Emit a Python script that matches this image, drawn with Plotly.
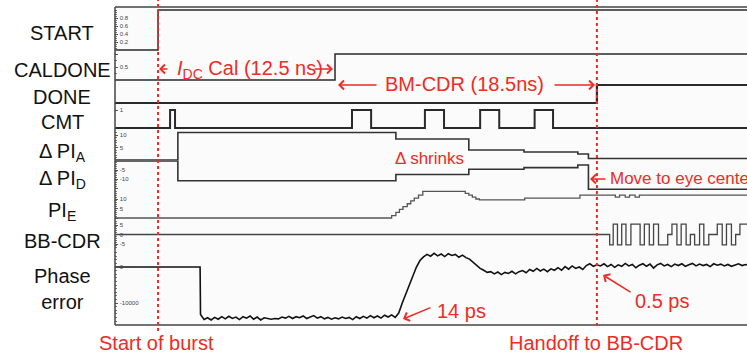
import plotly.graph_objects as go

# ---------------------------------------------------------------------------
# Data (time in ns, 0 = start of burst)
# ---------------------------------------------------------------------------
t_left, t_right = -3.04, 41.6
burst_start = 0.0
idc_cal_ns = 12.5
bm_cdr_ns = 18.5
caldone_at = burst_start + idc_cal_ns
handoff_at = caldone_at + bm_cdr_ns

start_t = [t_left, burst_start, t_right]
start_v = [0, 1, 1]

caldone_t = [t_left, caldone_at, t_right]
caldone_v = [0, 1, 1]

done_t = [t_left, handoff_at, t_right]
done_v = [0, 1, 1]

cmt_t = [t_left, 0.85, 1.2, 13.7, 15.05, 18.85, 20.2, 22.75, 24.1, 26.6, 27.9, t_right]
cmt_v = [0, 1, 0, 1, 0, 1, 0, 1, 0, 1, 0, 0]

dpia_t = [t_left, 1.4, 16.8, 21.95, 25.85, 29.65, 30.4, t_right]
dpia_v = [0, 11, 8.4, 4.0, 3.2, 2.4, 0.6, 0.6]

dpid_t = [t_left, 1.4, 16.8, 21.95, 25.85, 29.65, 30.4, t_right]
dpid_v = [0, -11, -7.5, -4.6, -3.7, -2.2, -15.7, -15.7]

pie_t = [t_left, 16.5, 16.8, 17.05, 17.3, 17.6, 17.85, 18.1, 18.4, 18.7,
         21.7, 21.95, 22.2, 22.45, 22.7, 25.9, 29.8,
         32.3, 32.6, 33.0, 33.3, 33.7, 34.0, t_right]
pie_v = [0, 1.2, 3, 4.5, 6, 7.5, 9, 10.5, 12, 14,
         13, 12, 11, 10, 9.5, 10.5, 12,
         11, 12, 11, 12, 11, 12, 12]

bb_t = [t_left, 31.9, 32.15, 32.45, 32.75, 33.05, 33.4, 33.7, 34.05, 34.35,
        34.7, 35.0, 35.35, 35.65, 36.0, 36.3, 36.65, 36.95, 37.3, 37.6,
        37.9, 38.25, 38.55, 38.9, 39.2, 39.5, 39.85, 40.15, 40.5, 40.8, 41.1, t_right]
bb_v = [0, -5.5, 5.5, -5.5, 5.5, -5.5, 5.5, 5.5, -5.5, 5.5,
        -5.5, 5.5, -5.5, -5.5, 0, 5.5, -5.5, 5.5, -5.5, 0,
        -5.5, 5.5, -5.5, 0, 0, 5.5, -5.5, 5.5, -5.5, 0, 5.5, 5.5]

# phase error in fs
phase_flat_t = [t_left, 2.97]
phase_flat_v = [0, 0]
phase_t0, phase_dt = 3.0, 0.25
phase_err = [
    -13200, -14600, -14100, -14700, -14000, -14500, -13800, -14400, -13700, -14300,
    -13900, -14600, -13800, -14200, -13600, -14500, -13900, -14700, -14100, -14400,
    -14500, -14300, -14400, -13900, -14200, -13700, -14300, -13800, -14100, -13600,
    -14300, -13900, -13500, -14200, -13800, -14400, -14000, -14500, -14100, -14400,
    -13900, -14300, -14000, -14600, -13800, -14300, -13700, -14200, -13500, -14100,
    -13600, -14200, -13400, -13900, -13300, -14000, -12800, -10000, -7500, -5000,
    -2500, 0, 1800, 2800, 3500, 3000, 3800, 3100, 3600, 2900,
    3700, 3200, 3500, 2700, 3300, 2600, 2200, 1300, 500, -400,
    -900, -1500, -1300, -1900, -1400, -2100, -1500, -1800, -1200, -1900,
    -1300, -1000, -1600, -700, -1200, -400, -1100, -600, -1300, -500,
    -900, -200, -900, 100, -600, 300, -400, 0, -700, 400,
    900, 200, 600, 300, 900, 100, 700, -100, 600, 200,
    1000, 300, 700, -200, 500, 900, 200, 800, -300, 600,
    1000, 300, 700, 100, 800, 400, 900, 200, 600, 1000,
    300, 800, 400, 700, 100, 900, 500, 800, 300, 700,
    200, 600, 900, 400, 700, 500,
]
phase_t = [phase_t0 + i * phase_dt for i in range(len(phase_err))]

# ---------------------------------------------------------------------------
# Layout geometry
# ---------------------------------------------------------------------------
W, H = 747, 358
left_px, right_px = 115, 747
top_px, bot_px = 7, 325
plot_h = bot_px - top_px
plot_w = right_px - left_px


def px_x(px):
    return (px - left_px) / plot_w


def px_y(py):
    return (bot_px - py) / plot_h


def px_t(px):
    return t_left + (px - left_px) / plot_w * (t_right - t_left)


# key, top px, bottom px, reference value, its px, px per unit, ticks, minor step
panels = [
    ("start", 7, 52, 0, 50, 40, [0.2, 0.4, 0.6, 0.8], 0.05),
    ("caldone", 52, 81, 0, 80, 26, [0, 0.5, 1], 0.25),
    ("done", 81, 104, 0, 103, 18, [], None),
    ("cmt", 104, 130, 0, 128, 18, [1], None),
    ("pia", 130, 161, 0, 160, 2.5, [0, 5, 10], 1),
    ("pid", 161, 190, 0, 161, 1.8, [-15, -10, -5], 1),
    ("pie", 190, 220, 0, 218, 1.9, [0, 5, 10], 1),
    ("bb", 220, 250, 0, 234.5, 1.9, [-5, 0, 5], 1),
    ("ph", 250, 325, 0, 267, 0.0036, [-10000, 0], 1000),
]

fig = go.Figure()
axis_of = {}
layout_axes = {}
for i, (key, a, b, v0, p0, ppu, ticks, minor) in enumerate(panels, start=1):
    name = "yaxis" if i == 1 else f"yaxis{i}"
    axis_of[key] = "y" if i == 1 else f"y{i}"
    ax = dict(
        domain=[px_y(b), px_y(a)],
        range=[v0 - (b - p0) / ppu, v0 + (p0 - a) / ppu],
        anchor="x",
        showgrid=False,
        zeroline=False,
        showline=False,
        fixedrange=True,
        tickmode="array",
        tickvals=ticks,
        ticktext=[f"{t:g}" for t in ticks],
        ticks="inside" if ticks else "",
        ticklen=3,
        tickwidth=1,
        tickcolor="#555",
        ticklabelposition="inside",
        tickfont=dict(size=6, color="#444", family="Liberation Sans, Arial, sans-serif"),
    )
    if minor:
        ax["minor"] = dict(ticks="inside", ticklen=2, dtick=minor, tickcolor="#777", tickwidth=1)
    layout_axes[name] = ax

sig_color = "#2a2a2a"


def step_trace(t, v, key, width=1.5, color=sig_color):
    fig.add_trace(go.Scatter(
        x=t, y=v, mode="lines", line=dict(shape="hv", width=width, color=color),
        xaxis="x", yaxis=axis_of[key], hoverinfo="skip", showlegend=False,
    ))


step_trace(start_t, start_v, "start", 1.5)
step_trace(caldone_t, caldone_v, "caldone", 1.5)
step_trace(done_t, done_v, "done", 2.2)
step_trace(cmt_t, cmt_v, "cmt", 2.0)
step_trace(dpia_t, dpia_v, "pia", 1.6, "#333")
step_trace(dpid_t, dpid_v, "pid", 1.6, "#333")
step_trace(pie_t, pie_v, "pie", 1.3, "#555")
step_trace(bb_t, bb_v, "bb", 1.3, "#444")

fig.add_trace(go.Scatter(
    x=phase_flat_t + phase_t, y=phase_flat_v + phase_err, mode="lines",
    line=dict(width=1.6, color="#111"), xaxis="x", yaxis=axis_of["ph"],
    hoverinfo="skip", showlegend=False,
))

# ---------------------------------------------------------------------------
# Frame, markers and annotations
# ---------------------------------------------------------------------------
red = "#ee2b24"
frame = dict(color="#444", width=1.5)
shapes = [
    dict(type="line", xref="paper", yref="paper", x0=0, x1=0, y0=0, y1=1, line=frame),
    dict(type="line", xref="paper", yref="paper", x0=0, x1=1, y0=1, y1=1, line=frame),
    dict(type="line", xref="paper", yref="paper", x0=0, x1=1, y0=0, y1=0, line=frame),
]
for t_mark, y_end in [(burst_start, 331), (handoff_at, 326)]:
    xp = (t_mark - t_left) / (t_right - t_left)
    shapes.append(dict(type="line", xref="paper", yref="paper", x0=xp, x1=xp,
                       y0=px_y(y_end), y1=px_y(0), line=dict(color=red, width=2, dash="dot")))

font_lbl = "Liberation Sans, Arial, sans-serif"
annotations = []

row_labels = [
    ("START", 32.5), ("CALDONE", 70), ("DONE", 97), ("CMT", 122.5),
    ("Δ PI<sub>A</sub>", 152), ("Δ PI<sub>D</sub>", 179), ("PI<sub>E</sub>", 211),
    ("BB-CDR", 241), ("Phase<br>error", 289),
]
for txt, py in row_labels:
    annotations.append(dict(text=txt, xref="paper", yref="paper", x=px_x(62), y=px_y(py),
                            xanchor="center", yanchor="middle", showarrow=False,
                            font=dict(size=20, color="#111", family=font_lbl)))


def red_text(txt, px, py, size=20, anchor="left"):
    annotations.append(dict(text=txt, xref="paper", yref="paper", x=px_x(px), y=px_y(py),
                            xanchor=anchor, yanchor="middle", showarrow=False,
                            font=dict(size=size, color=red, family=font_lbl)))


def red_arrow(head_px, head_py, dx, dy):
    annotations.append(dict(text="", xref="x", yref="paper", x=px_t(head_px), y=px_y(head_py),
                            ax=dx, ay=dy, axref="pixel", ayref="pixel", showarrow=True,
                            arrowhead=4, arrowsize=1.1, arrowwidth=1.6, arrowcolor=red,
                            standoff=0, startstandoff=0))


red_text("<i>I</i><sub>DC</sub> Cal (12.5 ns)", 175, 70)
red_arrow(159, 69, 10, 0)
red_arrow(333, 69, -20, 0)

red_text("BM-CDR (18.5ns)", 465, 84, anchor="center")
red_arrow(338, 85, 40, 0)
red_arrow(595, 85, -42, 0)

red_text("Δ shrinks", 393, 158, size=17)
red_text("Move to eye center", 608, 178, size=17)
red_arrow(590, 179, 17, 0)

red_text("14 ps", 435, 311)
red_arrow(403, 319, 29, -12)
red_text("0.5 ps", 633, 301)
red_arrow(603, 275, 29, 18)

red_text("Start of burst", 97, 343)
red_text("Handoff to BB-CDR", 507, 343)

fig.update_layout(
    width=W, height=H,
    margin=dict(l=left_px, r=W - right_px, t=top_px, b=H - bot_px),
    paper_bgcolor="white",
    plot_bgcolor="#fbfbfb",
    xaxis=dict(domain=[0, 1], range=[t_left, t_right], anchor=axis_of["ph"],
               showgrid=False, zeroline=False, showline=False, showticklabels=False,
               ticks="", fixedrange=True),
    shapes=shapes,
    annotations=annotations,
    showlegend=False,
    **layout_axes,
)

fig.write_html("out.html")
